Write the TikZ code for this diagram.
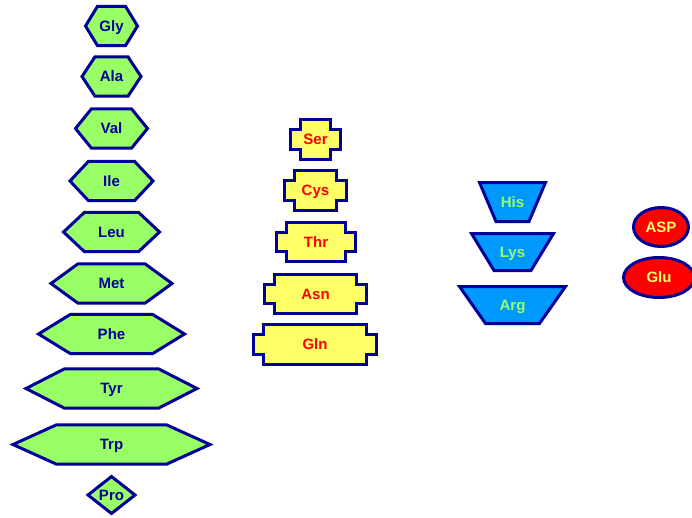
\documentclass[tikz,border=0pt]{standalone}
\usepackage{fontspec}
\setmainfont{Liberation Sans}
\definecolor{navy}{HTML}{000099}
\definecolor{leafgreen}{HTML}{99FF66}
\definecolor{lemon}{HTML}{FFFF66}
\definecolor{skyblue}{HTML}{0099FF}
\definecolor{brightred}{HTML}{FF0000}

\tikzset{
  shapeline/.style={draw=navy, line width=3pt, line join=miter},
  hexfill/.style={shapeline, fill=leafgreen},
  notchfill/.style={shapeline, fill=lemon},
  trapfill/.style={shapeline, fill=skyblue},
  ovalfill/.style={shapeline, fill=brightred},
  aminotext/.style={font=\fontsize{15}{15}\selectfont\bfseries, inner sep=0pt,
    text height=10.7pt, text depth=0pt, anchor=center},
  hextext/.style={aminotext, text=navy},
  notchtext/.style={aminotext, text=brightred},
  traptext/.style={aminotext, text=leafgreen},
  ovaltext/.style={aminotext, text=lemon},
}

% hexagon: name, centre x, centre y, outer width, slant
\newcommand\aminoHex[5]{%
  \pgfmathsetmacro\hxl{#2-#4/2+2.5}\pgfmathsetmacro\hxr{#2+#4/2-2.5}%
  \draw[hexfill] (\hxl,#3) -- ({\hxl+#5},{#3-19.7}) -- ({\hxr-#5},{#3-19.7})
    -- (\hxr,#3) -- ({\hxr-#5},{#3+19.7}) -- ({\hxl+#5},{#3+19.7}) -- cycle;
  \node[hextext] (#1) at (#2,#3) {#1};
}

% rectangle with square notches at the corners: name, cx, cy, outer width, outer height
\newcommand\aminoNotch[5]{%
  \pgfmathsetmacro\nxl{#2-#4/2+1.5}\pgfmathsetmacro\nxr{#2+#4/2-1.5}%
  \pgfmathsetmacro\nyt{#3-#5/2+1.5}\pgfmathsetmacro\nyb{#3+#5/2-1.5}%
  \draw[notchfill] ({\nxl+10},\nyt) -- ({\nxr-10},\nyt) -- ({\nxr-10},{\nyt+10})
    -- (\nxr,{\nyt+10}) -- (\nxr,{\nyb-10}) -- ({\nxr-10},{\nyb-10})
    -- ({\nxr-10},\nyb) -- ({\nxl+10},\nyb) -- ({\nxl+10},{\nyb-10})
    -- (\nxl,{\nyb-10}) -- (\nxl,{\nyt+10}) -- ({\nxl+10},{\nyt+10}) -- cycle;
  \node[notchtext] (#1) at (#2,#3) {#1};
}

% inverted trapezoid: name, cx, top y, bottom y, top half width, bottom half width
\newcommand\aminoTrap[6]{%
  \draw[trapfill] ({#2-#5+2.5},{#3+1.5}) -- ({#2+#5-2.5},{#3+1.5})
    -- ({#2+#6-1.5},{#4-1.5}) -- ({#2-#6+1.5},{#4-1.5}) -- cycle;
  \node[traptext] (#1) at (#2,{(#3+#4)/2}) {#1};
}

% ellipse: name, cx, cy, outer x radius, outer y radius
\newcommand\aminoOval[5]{%
  \draw[ovalfill] (#2,#3) ellipse [x radius={#4-1.5}, y radius={#5-1.5}];
  \node[ovaltext] (#1) at (#2,#3) {#1};
}

\begin{document}
\begin{tikzpicture}[x=1pt, y=-1pt]
  \useasboundingbox (0,0) rectangle (692,517);

  % non-polar side chains
  \aminoHex{Gly}{111.5}{26}{57}{12}
  \aminoHex{Ala}{111.5}{76.5}{64}{13}
  \aminoHex{Val}{111.5}{128.5}{77}{16}
  \aminoHex{Ile}{111.5}{181}{88}{18.5}
  \aminoHex{Leu}{111.5}{232}{101}{21}
  \aminoHex{Met}{111.5}{283.5}{126}{27}
  \aminoHex{Phe}{111.5}{334}{151}{32}
  \aminoHex{Tyr}{111.5}{388.5}{176}{38.5}
  \aminoHex{Trp}{111.5}{444.5}{202}{43.5}

  % proline
  \draw[hexfill] (88,495) -- (111.5,476.5) -- (135,495) -- (111.5,513.5) -- cycle;
  \node[hextext] (Pro) at (111.5,495) {Pro};

  % polar uncharged
  \aminoNotch{Ser}{315.5}{139.5}{53}{43}
  \aminoNotch{Cys}{315.5}{190.5}{65}{43}
  \aminoNotch{Thr}{316}{242}{82}{42}
  \aminoNotch{Asn}{315.5}{294}{105}{42}
  \aminoNotch{Gln}{315}{344.5}{126}{43}

  % basic
  \aminoTrap{His}{512.5}{181}{223}{35.5}{18}
  \aminoTrap{Lys}{512.5}{232}{272}{43.5}{20}
  \aminoTrap{Arg}{512.5}{285}{325}{55.5}{28.5}

  % acidic
  \aminoOval{ASP}{661}{227}{29}{21}
  \aminoOval{Glu}{659}{277.5}{37}{21.5}
\end{tikzpicture}
\end{document}
